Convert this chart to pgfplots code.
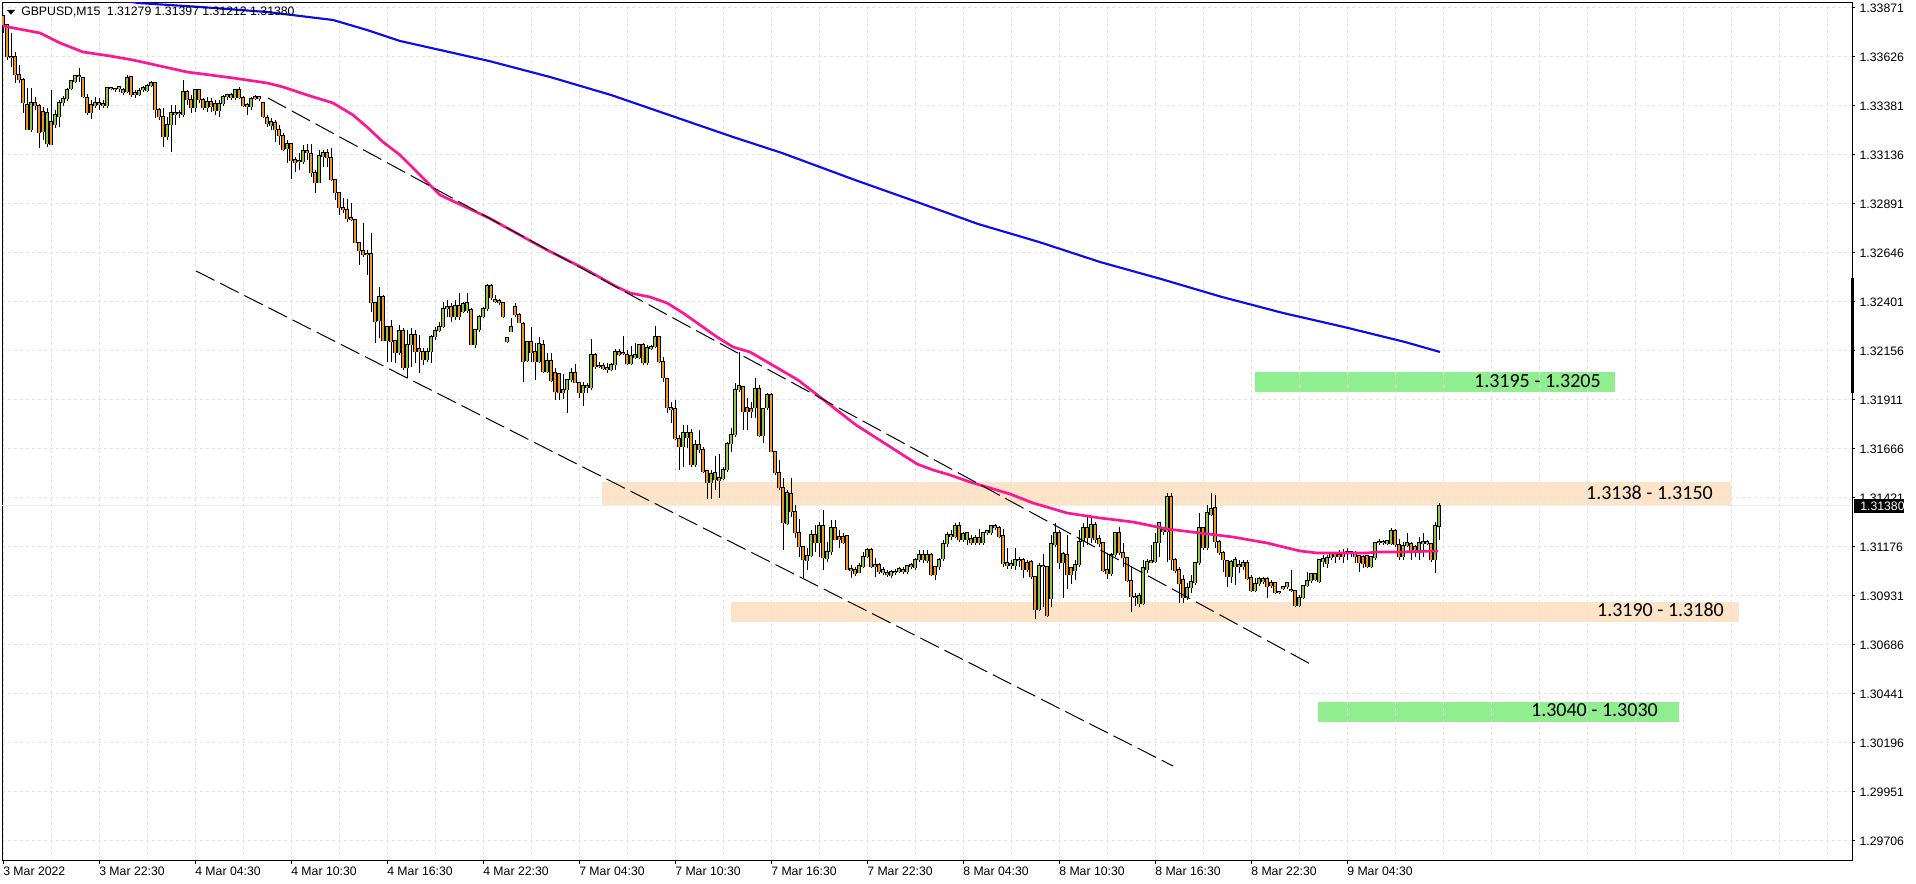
\documentclass[border=0pt]{standalone}
\usepackage{fontspec}
\setmainfont{Liberation Sans}
\newfontfamily\bandfont{Carlito}
\usepackage{pgfplots}
\usepackage{pgfplotstable}
\pgfplotsset{compat=1.18}
\definecolor{bullg}{RGB}{146,196,70}
\definecolor{bearo}{RGB}{242,148,36}
\definecolor{mapink}{RGB}{255,20,147}
\definecolor{mablue}{RGB}{10,10,245}
\definecolor{bandor}{RGB}{253,228,198}
\definecolor{bandgr}{RGB}{144,238,144}
\definecolor{gridc}{RGB}{226,226,226}
\definecolor{bidc}{RGB}{238,238,238}

\pgfplotstableread{
i o h l c
0 1.33830 1.33835 1.33745 1.33785
1 1.33785 1.33790 1.33610 1.33625
2 1.33625 1.33745 1.33575 1.33620
3 1.33625 1.33650 1.33495 1.33535
4 1.33535 1.33585 1.33495 1.33510
5 1.33510 1.33520 1.33345 1.33395
6 1.33385 1.33470 1.33260 1.33260
7 1.33260 1.33470 1.33250 1.33395
8 1.33395 1.33425 1.33360 1.33380
9 1.33380 1.33390 1.33170 1.33245
10 1.33350 1.33375 1.33210 1.33250
11 1.33190 1.33370 1.33175 1.33345
12 1.33300 1.33460 1.33185 1.33185
13 1.33285 1.33360 1.33270 1.33335
14 1.33325 1.33410 1.33275 1.33395
15 1.33395 1.33430 1.33380 1.33415
16 1.33415 1.33470 1.33405 1.33460
17 1.33465 1.33510 1.33460 1.33505
18 1.33500 1.33535 1.33495 1.33530
19 1.33530 1.33570 1.33500 1.33525
20 1.33520 1.33525 1.33420 1.33425
21 1.33420 1.33440 1.33335 1.33345
22 1.33385 1.33410 1.33315 1.33345
23 1.33380 1.33425 1.33370 1.33395
24 1.33395 1.33420 1.33360 1.33385
25 1.33380 1.33410 1.33370 1.33390
26 1.33380 1.33470 1.33370 1.33470
27 1.33465 1.33470 1.33460 1.33470
28 1.33465 1.33470 1.33450 1.33460
29 1.33465 1.33480 1.33450 1.33475
30 1.33460 1.33470 1.33435 1.33445
31 1.33450 1.33535 1.33445 1.33520
32 1.33525 1.33525 1.33425 1.33435
33 1.33445 1.33460 1.33420 1.33435
34 1.33435 1.33470 1.33430 1.33455
35 1.33460 1.33480 1.33450 1.33470
36 1.33455 1.33490 1.33450 1.33480
37 1.33480 1.33505 1.33475 1.33495
38 1.33495 1.33500 1.33320 1.33360
39 1.33360 1.33370 1.33310 1.33325
40 1.33325 1.33370 1.33175 1.33225
41 1.33225 1.33325 1.33210 1.33285
42 1.33285 1.33385 1.33150 1.33345
43 1.33335 1.33385 1.33285 1.33345
44 1.33340 1.33360 1.33320 1.33345
45 1.33335 1.33510 1.33325 1.33450
46 1.33450 1.33460 1.33385 1.33410
47 1.33410 1.33435 1.33345 1.33370
48 1.33370 1.33465 1.33350 1.33460
49 1.33460 1.33465 1.33395 1.33410
50 1.33410 1.33420 1.33360 1.33370
51 1.33370 1.33425 1.33350 1.33400
52 1.33400 1.33420 1.33350 1.33375
53 1.33390 1.33410 1.33335 1.33355
54 1.33355 1.33410 1.33325 1.33390
55 1.33390 1.33435 1.33380 1.33425
56 1.33425 1.33440 1.33410 1.33435
57 1.33435 1.33445 1.33410 1.33420
58 1.33420 1.33465 1.33410 1.33460
59 1.33460 1.33475 1.33415 1.33420
60 1.33420 1.33430 1.33375 1.33380
61 1.33385 1.33395 1.33335 1.33375
62 1.33375 1.33425 1.33360 1.33415
63 1.33425 1.33435 1.33410 1.33415
64 1.33415 1.33430 1.33405 1.33425
65 1.33395 1.33400 1.33320 1.33325
66 1.33320 1.33335 1.33275 1.33290
67 1.33280 1.33320 1.33260 1.33300
68 1.33295 1.33310 1.33200 1.33260
69 1.33260 1.33285 1.33185 1.33230
70 1.33230 1.33245 1.33155 1.33160
71 1.33165 1.33210 1.33095 1.33190
72 1.33190 1.33195 1.33015 1.33105
73 1.33110 1.33125 1.33050 1.33095
74 1.33100 1.33145 1.33060 1.33105
75 1.33100 1.33185 1.33090 1.33155
76 1.33155 1.33190 1.33110 1.33145
77 1.33140 1.33190 1.33025 1.33045
78 1.33045 1.33060 1.32945 1.32995
79 1.32995 1.33160 1.32995 1.33130
80 1.33125 1.33160 1.33075 1.33145
81 1.33145 1.33165 1.33075 1.33120
82 1.33120 1.33170 1.33005 1.33010
83 1.33010 1.33015 1.32910 1.32945
84 1.32945 1.32950 1.32835 1.32870
85 1.32870 1.32920 1.32845 1.32860
86 1.32860 1.32915 1.32800 1.32815
87 1.32820 1.32895 1.32805 1.32810
88 1.32810 1.32815 1.32695 1.32695
89 1.32695 1.32700 1.32585 1.32655
90 1.32655 1.32795 1.32625 1.32635
91 1.32640 1.32660 1.32535 1.32635
92 1.32640 1.32745 1.32350 1.32395
93 1.32395 1.32395 1.32195 1.32300
94 1.32305 1.32475 1.32220 1.32425
95 1.32425 1.32435 1.32205 1.32205
96 1.32205 1.32275 1.32100 1.32275
97 1.32275 1.32310 1.32100 1.32200
98 1.32205 1.32210 1.32095 1.32145
99 1.32145 1.32285 1.32135 1.32255
100 1.32255 1.32270 1.32060 1.32070
101 1.32070 1.32260 1.32020 1.32185
102 1.32185 1.32270 1.32075 1.32235
103 1.32235 1.32260 1.32095 1.32150
104 1.32165 1.32235 1.32045 1.32150
105 1.32150 1.32170 1.32085 1.32110
106 1.32110 1.32170 1.32100 1.32150
107 1.32150 1.32235 1.32095 1.32225
108 1.32225 1.32275 1.32210 1.32255
109 1.32255 1.32300 1.32250 1.32275
110 1.32275 1.32400 1.32270 1.32365
111 1.32365 1.32410 1.32325 1.32375
112 1.32375 1.32395 1.32300 1.32325
113 1.32325 1.32410 1.32310 1.32380
114 1.32380 1.32445 1.32310 1.32325
115 1.32350 1.32400 1.32345 1.32390
116 1.32355 1.32445 1.32345 1.32395
117 1.32360 1.32370 1.32185 1.32185
118 1.32185 1.32260 1.32170 1.32260
119 1.32260 1.32335 1.32250 1.32325
120 1.32325 1.32375 1.32320 1.32365
121 1.32365 1.32490 1.32355 1.32480
122 1.32480 1.32490 1.32410 1.32420
123 1.32410 1.32435 1.32395 1.32400
124 1.32405 1.32415 1.32385 1.32395
125 1.32395 1.32400 1.32320 1.32325
126 1.32200 1.32220 1.32195 1.32220
127 1.32250 1.32320 1.32250 1.32275
128 1.32375 1.32395 1.32325 1.32335
129 1.32335 1.32345 1.32295 1.32295
130 1.32290 1.32300 1.32000 1.32100
131 1.32105 1.32200 1.32100 1.32200
132 1.32200 1.32275 1.32100 1.32145
133 1.32150 1.32195 1.32010 1.32100
134 1.32100 1.32225 1.32095 1.32190
135 1.32185 1.32210 1.32045 1.32050
136 1.32050 1.32145 1.32045 1.32105
137 1.32105 1.32145 1.32000 1.32005
138 1.32045 1.32070 1.31910 1.31950
139 1.32040 1.32045 1.31910 1.31945
140 1.31960 1.32040 1.31915 1.31945
141 1.31960 1.32010 1.31845 1.32010
142 1.32010 1.32070 1.32000 1.32045
143 1.32045 1.32090 1.31995 1.31995
144 1.31995 1.31995 1.31920 1.31945
145 1.31945 1.32000 1.31880 1.31980
146 1.31980 1.31995 1.31945 1.31970
147 1.31970 1.32215 1.31960 1.32135
148 1.32135 1.32145 1.32065 1.32075
149 1.32080 1.32100 1.32070 1.32075
150 1.32080 1.32095 1.32060 1.32065
151 1.32070 1.32095 1.32045 1.32060
152 1.32060 1.32095 1.32055 1.32085
153 1.32085 1.32165 1.32060 1.32150
154 1.32150 1.32165 1.32130 1.32135
155 1.32145 1.32230 1.32135 1.32140
156 1.32135 1.32160 1.32085 1.32090
157 1.32090 1.32180 1.32085 1.32130
158 1.32120 1.32195 1.32115 1.32135
159 1.32120 1.32190 1.32115 1.32185
160 1.32185 1.32195 1.32085 1.32095
161 1.32095 1.32185 1.32085 1.32170
162 1.32165 1.32185 1.32160 1.32175
163 1.32175 1.32280 1.32170 1.32225
164 1.32225 1.32225 1.32095 1.32100
165 1.32100 1.32125 1.32000 1.32020
166 1.32015 1.32020 1.31845 1.31870
167 1.31870 1.31900 1.31795 1.31860
168 1.31865 1.31910 1.31710 1.31715
169 1.31715 1.31735 1.31560 1.31675
170 1.31675 1.31785 1.31575 1.31745
171 1.31720 1.31785 1.31670 1.31745
172 1.31745 1.31765 1.31575 1.31585
173 1.31585 1.31710 1.31575 1.31685
174 1.31685 1.31760 1.31645 1.31660
175 1.31660 1.31675 1.31545 1.31550
176 1.31555 1.31560 1.31415 1.31495
177 1.31495 1.31560 1.31415 1.31540
178 1.31510 1.31630 1.31460 1.31545
179 1.31520 1.31640 1.31420 1.31505
180 1.31515 1.31575 1.31510 1.31560
181 1.31560 1.31700 1.31550 1.31690
182 1.31690 1.31770 1.31650 1.31735
183 1.31735 1.31995 1.31725 1.31960
184 1.31960 1.32150 1.31950 1.31980
185 1.31975 1.31975 1.31760 1.31850
186 1.31870 1.31920 1.31760 1.31850
187 1.31865 1.31900 1.31820 1.31850
188 1.31870 1.32020 1.31820 1.31965
189 1.31965 1.31985 1.31725 1.31730
190 1.31730 1.31865 1.31695 1.31865
191 1.31870 1.31945 1.31860 1.31935
192 1.31935 1.31945 1.31650 1.31650
193 1.31650 1.31650 1.31535 1.31545
194 1.31545 1.31610 1.31460 1.31470
195 1.31470 1.31520 1.31160 1.31295
196 1.31290 1.31460 1.31285 1.31445
197 1.31440 1.31520 1.31325 1.31350
198 1.31350 1.31385 1.31220 1.31245
199 1.31245 1.31315 1.31125 1.31175
200 1.31175 1.31175 1.31020 1.31110
201 1.31105 1.31170 1.31060 1.31130
202 1.31130 1.31260 1.31125 1.31235
203 1.31235 1.31285 1.31150 1.31195
204 1.31195 1.31300 1.31125 1.31280
205 1.31280 1.31360 1.31060 1.31120
206 1.31115 1.31200 1.31100 1.31150
207 1.31150 1.31310 1.31135 1.31270
208 1.31270 1.31310 1.31210 1.31210
209 1.31225 1.31260 1.31170 1.31210
210 1.31225 1.31245 1.31190 1.31195
211 1.31230 1.31230 1.31060 1.31060
212 1.31065 1.31085 1.31020 1.31055
213 1.31060 1.31075 1.31030 1.31040
214 1.31045 1.31095 1.31045 1.31080
215 1.31075 1.31150 1.31070 1.31125
216 1.31125 1.31170 1.31120 1.31160
217 1.31160 1.31170 1.31070 1.31075
218 1.31085 1.31120 1.31025 1.31075
219 1.31085 1.31095 1.31040 1.31050
220 1.31045 1.31075 1.31035 1.31060
221 1.31045 1.31060 1.31025 1.31035
222 1.31030 1.31060 1.31020 1.31050
223 1.31045 1.31065 1.31035 1.31050
224 1.31050 1.31075 1.31045 1.31065
225 1.31060 1.31075 1.31040 1.31050
226 1.31050 1.31085 1.31040 1.31080
227 1.31085 1.31095 1.31065 1.31075
228 1.31070 1.31120 1.31060 1.31110
229 1.31110 1.31160 1.31100 1.31135
230 1.31135 1.31160 1.31095 1.31110
231 1.31105 1.31160 1.31095 1.31135
232 1.31135 1.31145 1.31030 1.31035
233 1.31075 1.31080 1.31010 1.31035
234 1.31075 1.31120 1.31060 1.31110
235 1.31115 1.31210 1.31105 1.31190
236 1.31190 1.31250 1.31175 1.31235
237 1.31225 1.31260 1.31210 1.31235
238 1.31225 1.31295 1.31220 1.31280
239 1.31280 1.31300 1.31200 1.31210
240 1.31210 1.31250 1.31200 1.31240
241 1.31210 1.31250 1.31185 1.31245
242 1.31215 1.31235 1.31185 1.31195
243 1.31195 1.31235 1.31185 1.31220
244 1.31220 1.31265 1.31185 1.31195
245 1.31195 1.31250 1.31185 1.31245
246 1.31245 1.31260 1.31235 1.31255
247 1.31245 1.31285 1.31235 1.31280
248 1.31270 1.31290 1.31260 1.31280
249 1.31270 1.31280 1.31220 1.31225
250 1.31230 1.31265 1.31075 1.31090
251 1.31080 1.31170 1.31065 1.31095
252 1.31080 1.31110 1.31065 1.31090
253 1.31080 1.31170 1.31060 1.31110
254 1.31105 1.31125 1.31075 1.31110
255 1.31110 1.31120 1.31020 1.31060
256 1.31095 1.31110 1.31050 1.31060
257 1.31100 1.31110 1.31015 1.31025
258 1.31025 1.31025 1.30815 1.30860
259 1.30860 1.31095 1.30855 1.31080
260 1.31080 1.31140 1.30875 1.31075
261 1.31075 1.31080 1.30825 1.30830
262 1.30915 1.31235 1.30875 1.31190
263 1.31185 1.31295 1.31175 1.31245
264 1.31245 1.31260 1.31065 1.31095
265 1.31095 1.31150 1.30920 1.31140
266 1.31135 1.31235 1.30965 1.31035
267 1.31070 1.31075 1.30990 1.31035
268 1.31055 1.31110 1.31010 1.31085
269 1.31085 1.31260 1.31075 1.31200
270 1.31200 1.31295 1.31175 1.31270
271 1.31270 1.31325 1.31185 1.31220
272 1.31220 1.31325 1.31195 1.31285
273 1.31285 1.31300 1.31195 1.31210
274 1.31215 1.31235 1.31175 1.31190
275 1.31195 1.31200 1.31050 1.31055
276 1.31060 1.31145 1.31015 1.31040
277 1.31040 1.31145 1.31030 1.31135
278 1.31135 1.31250 1.31125 1.31245
279 1.31245 1.31275 1.31135 1.31145
280 1.31145 1.31195 1.31075 1.31120
281 1.31120 1.31125 1.31000 1.31005
282 1.31005 1.31075 1.30850 1.30925
283 1.30925 1.30945 1.30880 1.30920
284 1.30890 1.30945 1.30875 1.30930
285 1.30890 1.31110 1.30885 1.31070
286 1.31060 1.31115 1.31045 1.31100
287 1.31095 1.31185 1.31095 1.31105
288 1.31100 1.31245 1.31095 1.31195
289 1.31195 1.31295 1.31125 1.31295
290 1.31260 1.31275 1.31235 1.31250
291 1.31250 1.31445 1.31100 1.31425
292 1.31425 1.31445 1.31060 1.31110
293 1.31110 1.31120 1.31045 1.31055
294 1.31060 1.31075 1.30895 1.30990
295 1.31010 1.31035 1.30895 1.30920
296 1.30920 1.30995 1.30910 1.30970
297 1.30970 1.31035 1.30945 1.31000
298 1.30995 1.31100 1.30985 1.31095
299 1.31095 1.31345 1.31085 1.31270
300 1.31270 1.31275 1.31160 1.31170
301 1.31170 1.31385 1.31160 1.31345
302 1.31335 1.31445 1.31330 1.31365
303 1.31370 1.31435 1.31170 1.31200
304 1.31200 1.31210 1.31135 1.31145
305 1.31145 1.31155 1.31050 1.31110
306 1.31105 1.31110 1.30975 1.31025
307 1.31025 1.31110 1.30995 1.31100
308 1.31075 1.31125 1.30985 1.31110
309 1.31085 1.31110 1.31045 1.31075
310 1.31075 1.31110 1.31060 1.31095
311 1.31095 1.31110 1.31010 1.31015
312 1.31020 1.31035 1.30950 1.30955
313 1.30955 1.31020 1.30950 1.30990
314 1.30990 1.31025 1.30980 1.31015
315 1.31000 1.31025 1.30990 1.31015
316 1.31015 1.31025 1.30920 1.30975
317 1.30995 1.31010 1.30970 1.30980
318 1.30995 1.31000 1.30940 1.30945
319 1.30950 1.30955 1.30940 1.30945
320 1.30975 1.30980 1.30960 1.30965
321 1.30975 1.31000 1.30965 1.30995
322 1.30960 1.31060 1.30950 1.30955
323 1.30955 1.30960 1.30875 1.30880
324 1.30880 1.30935 1.30875 1.30920
325 1.30920 1.30985 1.30915 1.30980
326 1.30980 1.31050 1.30975 1.31005
327 1.31005 1.31045 1.30995 1.31040
328 1.31010 1.31045 1.31005 1.31040
329 1.31000 1.31115 1.30995 1.31110
330 1.31100 1.31135 1.31075 1.31115
331 1.31090 1.31135 1.31070 1.31120
332 1.31120 1.31150 1.31110 1.31145
333 1.31145 1.31145 1.31095 1.31125
334 1.31135 1.31160 1.31110 1.31125
335 1.31145 1.31165 1.31095 1.31125
336 1.31150 1.31170 1.31110 1.31145
337 1.31140 1.31155 1.31125 1.31150
338 1.31145 1.31155 1.31095 1.31125
339 1.31130 1.31135 1.31050 1.31095
340 1.31125 1.31135 1.31070 1.31090
341 1.31130 1.31135 1.31070 1.31075
342 1.31075 1.31130 1.31070 1.31125
343 1.31120 1.31195 1.31110 1.31195
344 1.31195 1.31215 1.31185 1.31200
345 1.31195 1.31210 1.31185 1.31200
346 1.31190 1.31210 1.31185 1.31205
347 1.31190 1.31270 1.31185 1.31255
348 1.31255 1.31265 1.31175 1.31185
349 1.31185 1.31215 1.31110 1.31125
350 1.31125 1.31200 1.31110 1.31180
351 1.31180 1.31245 1.31175 1.31195
352 1.31190 1.31200 1.31110 1.31155
353 1.31175 1.31185 1.31125 1.31160
354 1.31160 1.31225 1.31110 1.31195
355 1.31190 1.31245 1.31125 1.31200
356 1.31190 1.31210 1.31185 1.31200
357 1.31190 1.31195 1.31100 1.31110
358 1.31110 1.31300 1.31045 1.31280
359 1.31279 1.31397 1.31212 1.31380
}\candles

\begin{document}
\begin{tikzpicture}[x=1pt,y=1pt]
\begin{axis}[
  at={(1.5pt,17.25pt)}, anchor=south west,
  scale only axis, width=1387.5pt, height=643.5pt,
  xmin=-0.25, xmax=462.25, ymin=1.29605, ymax=1.33895,
  set layers,
  axis line style={line width=0.75pt, black},
  tick align=outside,
  xtick pos=left, ytick pos=right, yticklabel pos=right,
  major tick length=2.5pt,
  minor tick length=0pt,
  tick style={black, line width=0.75pt},
  xtick={0,24,...,336},
  xticklabels={3 Mar 2022,3 Mar 22:30,4 Mar 04:30,4 Mar 10:30,4 Mar 16:30,4 Mar 22:30,7 Mar 04:30,7 Mar 10:30,7 Mar 16:30,7 Mar 22:30,8 Mar 04:30,8 Mar 10:30,8 Mar 16:30,8 Mar 22:30,9 Mar 04:30},
  minor xtick={0,12,...,456},
  xminorgrids=true, xmajorgrids=false, ymajorgrids=true,
  grid style={gridc, line width=0.75pt, dash pattern=on 2.25pt off 2.25pt},
  minor grid style={gridc, line width=0.75pt, dash pattern=on 2.25pt off 2.25pt},
  ytick={1.29706,1.29951,1.30196,1.30441,1.30686,1.30931,1.31176,1.31421,1.31666,1.31911,1.32156,1.32401,1.32646,1.32891,1.33136,1.33381,1.33626,1.33871},
  yticklabels={1.29706,1.29951,1.30196,1.30441,1.30686,1.30931,1.31176,1.31421,1.31666,1.31911,1.32156,1.32401,1.32646,1.32891,1.33136,1.33381,1.33626,1.33871},
  /pgf/number format/assume math mode=true,
  tick label style={font=\fontsize{9.2}{11}\selectfont},
  xticklabel style={anchor=north west, inner sep=0pt, xshift=0pt, yshift=-2pt},
  yticklabel style={anchor=west, inner sep=0pt, xshift=3pt},
  clip=true,
]
% zones (background)
\addplot[fill=bandgr, draw=none, on layer=axis background, forget plot] coordinates {(313,1.3195) (403,1.3195) (403,1.3205) (313,1.3205)} -- cycle;
\addplot[fill=bandor, draw=none, on layer=axis background, forget plot] coordinates {(149.75,1.3138) (432,1.3138) (432,1.3150) (149.75,1.3150)} -- cycle;
\addplot[fill=bandor, draw=none, on layer=axis background, forget plot] coordinates {(182,1.3080) (434,1.3080) (434,1.3090) (182,1.3090)} -- cycle;
\addplot[fill=bandgr, draw=none, on layer=axis background, forget plot] coordinates {(328.75,1.3030) (419,1.3030) (419,1.3040) (328.75,1.3040)} -- cycle;
% bid line
\addplot[bidc, line width=0.75pt, forget plot] coordinates {(-0.25,1.31380) (462.25,1.31380)};

% wicks
\addplot[draw=none, mark=none, forget plot, error bars/.cd, y dir=plus, y explicit, error mark=none, error bar style={draw=black, solid, line width=0.75pt}]
  table[x=i, y=l, y error expr=\thisrow{h}-\thisrow{l}] {\candles};
% body outlines
\addplot[draw=none, mark=none, forget plot, error bars/.cd, y dir=plus, y explicit, error mark=none, error bar style={draw=black, solid, line width=2.5pt}]
  table[x=i, y expr={min(\thisrow{o},\thisrow{c})-0.000025}, y error expr={abs(\thisrow{c}-\thisrow{o})+0.00005}] {\candles};
% bull fill
\addplot[draw=none, mark=none, forget plot, restrict expr to domain={\thisrow{c}-\thisrow{o}}{0:1}, error bars/.cd, y dir=plus, y explicit, error mark=none, error bar style={draw=bullg, solid, line width=1.6pt}]
  table[x=i, y expr={min(\thisrow{o},\thisrow{c})+0.00002}, y error expr={max(abs(\thisrow{c}-\thisrow{o})-0.00004,0)}] {\candles};
% bear fill
\addplot[draw=none, mark=none, forget plot, restrict expr to domain={\thisrow{c}-\thisrow{o}}{-1:0}, error bars/.cd, y dir=plus, y explicit, error mark=none, error bar style={draw=bearo, solid, line width=1.6pt}]
  table[x=i, y expr={min(\thisrow{o},\thisrow{c})+0.00002}, y error expr={max(abs(\thisrow{c}-\thisrow{o})-0.00004,0)}] {\candles};

% moving averages
\addplot[mablue, line width=1.6pt, forget plot] coordinates {
(26.75,1.33920) (33.75,1.33895) (49.25,1.33875) (66,1.33850) (82.5,1.33810) (91,1.33760) (99.25,1.33705)
(121.5,1.33605) (136.75,1.33525) (152,1.33435) (167.25,1.33330) (182.5,1.33225) (194.75,1.33145)
(213,1.33010) (228.5,1.32900) (243.75,1.32790) (259,1.32700) (274.25,1.32600) (289.5,1.32515)
(304.75,1.32425) (320,1.32345) (335.25,1.32275) (350.5,1.32200) (359.25,1.32150)};
\addplot[mapink, line width=2pt, forget plot] coordinates {
(0,1.33780) (9.25,1.33745) (14.25,1.33695) (20,1.33650) (26.75,1.33630) (32.5,1.33610) (39.25,1.33580)
(46,1.33550) (57.5,1.33520) (66,1.33495) (70,1.33475) (76,1.33435) (82.5,1.33395) (87.5,1.33335)
(91,1.33275) (95,1.33200) (99.25,1.33135) (109.25,1.32935) (121.5,1.32820) (136,1.32660) (145,1.32570)
(153.5,1.32475) (156.75,1.32445) (161.75,1.32425) (166,1.32395) (170,1.32345) (174.25,1.32285)
(178.5,1.32225) (182.5,1.32175) (186.75,1.32150) (198.75,1.32010) (213.25,1.31785) (228.5,1.31590)
(232.5,1.31560) (236.75,1.31535) (241.75,1.31500) (246.75,1.31470) (251.75,1.31440) (257.5,1.31395)
(266,1.31345) (274.25,1.31320) (282.5,1.31300) (291,1.31265) (299.25,1.31245) (307.5,1.31225)
(316,1.31195) (324.25,1.31155) (328.5,1.31145) (341,1.31145) (343.5,1.31150) (349.25,1.31150) (358.75,1.31155)};

% trend lines
\addplot[black, line width=0.75pt, dash pattern=on 15.5pt off 4.8pt, forget plot] coordinates {(66.25,1.33420) (327.75,1.30580)};
\addplot[black, line width=0.75pt, dash pattern=on 15.5pt off 4.8pt, forget plot] coordinates {(48.25,1.32555) (292.5,1.30080)};

% zone labels
\node[anchor=east, inner sep=0pt, font=\bandfont\fontsize{15}{18}\selectfont] at (axis cs:399.5,1.32005) {1.3195 - 1.3205};
\node[anchor=east, inner sep=0pt, font=\bandfont\fontsize{15}{18}\selectfont] at (axis cs:427.5,1.31445) {1.3138 - 1.3150};
\node[anchor=east, inner sep=0pt, font=\bandfont\fontsize{15}{18}\selectfont] at (axis cs:430.25,1.30860) {1.3190 - 1.3180};
\node[anchor=east, inner sep=0pt, font=\bandfont\fontsize{15}{18}\selectfont] at (axis cs:413.75,1.30360) {1.3040 - 1.3030};
\end{axis}
% header
\fill[black] (5.25,655.5) -- (11.25,655.5) -- (8.25,652.0) -- cycle;
\node[anchor=west, inner sep=0pt, font=\fontsize{9.2}{11}\selectfont] at (15.75,654) {GBPUSD,M15\hspace{5pt}1.31279 1.31397 1.31212 1.31380};
% price scale marker and current price
\fill[black] (1388.25,454.5) rectangle (1390.5,368.25);
\fill[black] (1390.5,288.75) rectangle (1428,278.25);
\node[anchor=west, inner sep=0pt, text=white, font=\fontsize{9.2}{11}\selectfont] at (1395,283.5) {1.31380};
\pgfresetboundingbox
\path[use as bounding box] (0,0) rectangle (1437,663);
\end{tikzpicture}
\end{document}
